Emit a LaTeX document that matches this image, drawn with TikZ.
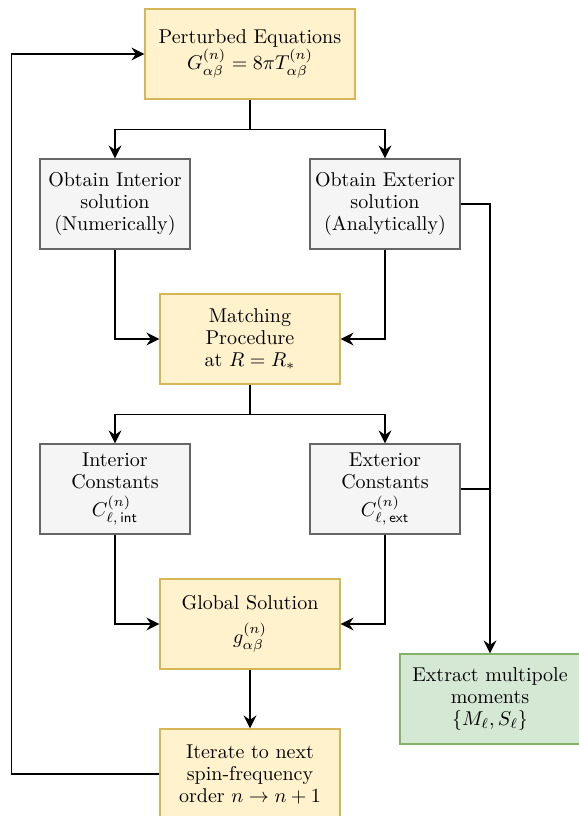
\documentclass[tikz,border=0pt]{standalone}
\usepackage{amsmath}
\usetikzlibrary{arrows.meta}
\definecolor{yfill}{HTML}{FFF2CC}
\definecolor{ydraw}{HTML}{D6B656}
\definecolor{gfill}{HTML}{F5F5F5}
\definecolor{gdraw}{HTML}{666666}
\definecolor{grfill}{HTML}{D5E8D4}
\definecolor{grdraw}{HTML}{82B366}
\begin{document}
\begin{tikzpicture}[x=0.5pt,y=-0.5pt,
  box/.style={draw, line width=0.6pt, align=center, inner sep=2pt,
    font=\fontsize{10}{11}\selectfont, minimum height=45pt},
  ybox/.style={box, fill=yfill, draw=ydraw},
  gbox/.style={box, fill=gfill, draw=gdraw},
  grbox/.style={box, fill=grfill, draw=grdraw},
  arr/.style={line width=0.7pt, -{Stealth[length=6.5pt,width=6.5pt,inset=2.2pt]}},
  ln/.style={line width=0.7pt}]
\useasboundingbox (0,0) rectangle (579,816);
\node[ybox, minimum width=105pt] (pe) at (250,54) {Perturbed Equations\\[0pt]$G^{(n)}_{\alpha\beta}=8\pi T^{(n)}_{\alpha\beta}$};
\node[gbox, minimum width=75pt] (oi) at (115,204) {Obtain Interior\\solution\\(Numerically)};
\node[gbox, minimum width=75pt] (oe) at (385,204) {Obtain Exterior\\solution\\(Analytically)};
\node[ybox, minimum width=90pt] (mp) at (250,339) {Matching\\Procedure\\at $R=R_*$};
\node[gbox, minimum width=75pt] (ic) at (115,489) {Interior\\Constants\\[3pt]$C^{(n)}_{\ell,\,\mathsf{int}}$};
\node[gbox, minimum width=75pt] (ec) at (385,489) {Exterior\\Constants\\[3pt]$C^{(n)}_{\ell,\,\mathsf{ext}}$};
\node[ybox, minimum width=90pt] (gs) at (250,624) {Global Solution\\[6pt]$g^{(n)}_{\alpha\beta}$};
\node[grbox, minimum width=90pt] (em) at (490,699) {Extract multipole\\moments\\$\{M_\ell,S_\ell\}$};
\node[ybox, minimum width=90pt] (it) at (250,774) {Iterate to next\\spin-frequency\\order $n\to n+1$};
\draw[arr] (pe.south) -- ++(0,30) -| (oi.north);
\draw[arr] (pe.south) -- ++(0,30) -| (oe.north);
\draw[arr] (oi.south) |- (mp.west);
\draw[arr] (oe.south) |- (mp.east);
\draw[arr] (mp.south) -- ++(0,30) -| (ic.north);
\draw[arr] (mp.south) -- ++(0,30) -| (ec.north);
\draw[arr] (ic.south) |- (gs.west);
\draw[arr] (ec.south) |- (gs.east);
\draw[arr] (gs.south) -- (it.north);
\draw[arr] (it.west) -- ++(-148,0) |- (pe.west);
\draw[arr] (oe.east) -- ++(29,0) -| (em.north);
\draw[ln] (ec.east) -- ++(29,0);
\end{tikzpicture}
\end{document}
